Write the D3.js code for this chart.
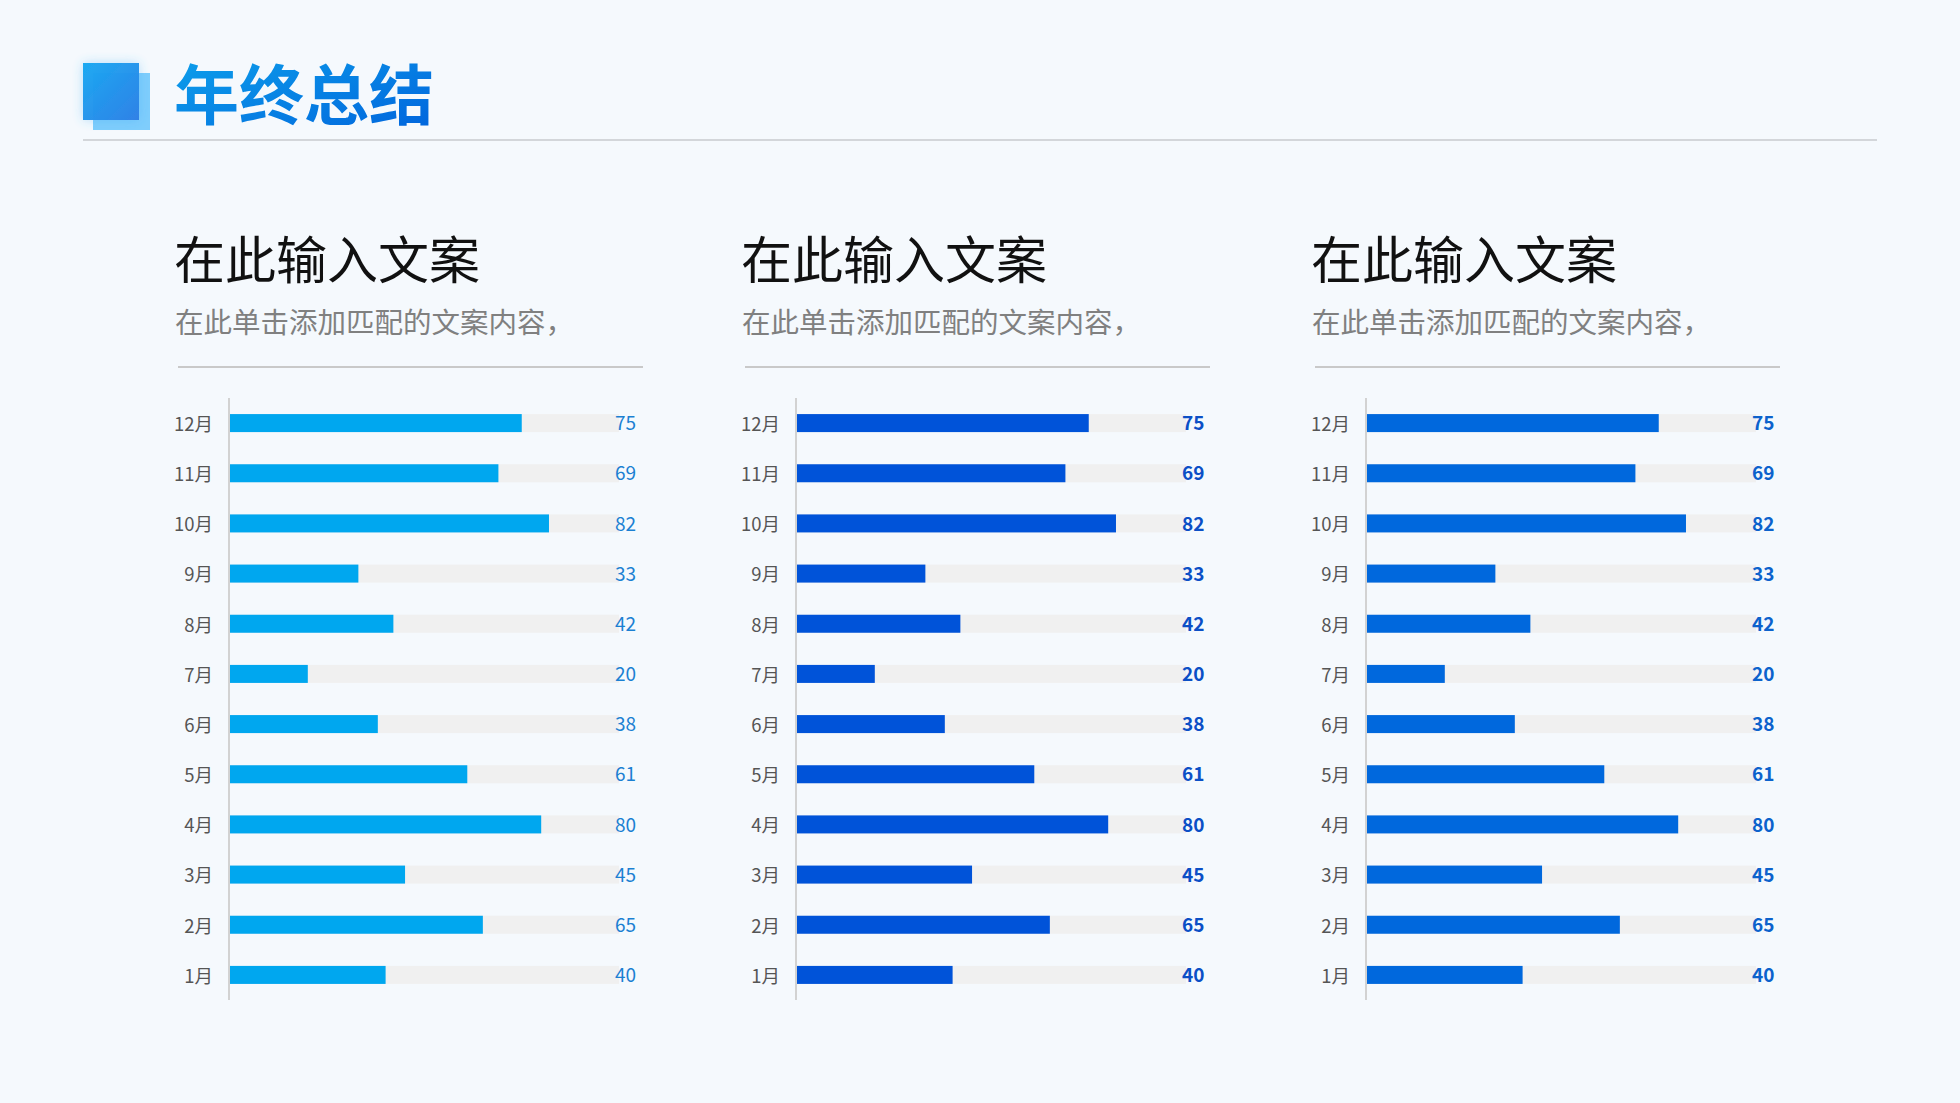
<!DOCTYPE html>
<html>
<head>
<meta charset="utf-8">
<script src="https://cdn.jsdelivr.net/npm/d3@7"></script>
<style>
  html, body { margin: 0; padding: 0; background: #f5f9fd; }
  svg { display: block; font-family: "Noto Sans CJK SC", "Noto Sans", sans-serif; }
</style>
</head>
<body>
<svg id="chart"></svg>
<script>
const pageTitle = '年终总结';
const months = ['12月', '11月', '10月', '9月', '8月', '7月', '6月', '5月', '4月', '3月', '2月', '1月'];
const valuesA = [75, 69, 82, 33, 42, 20, 38, 61, 80, 45, 65, 40];
const valuesB = [75, 69, 82, 33, 42, 20, 38, 61, 80, 45, 65, 40];
const valuesC = [75, 69, 82, 33, 42, 20, 38, 61, 80, 45, 65, 40];
const headings = ['在此输入文案', '在此输入文案', '在此输入文案'];
const notes = ['在此单击添加匹配的文案内容，', '在此单击添加匹配的文案内容，', '在此单击添加匹配的文案内容，'];
const maxValue = 100;

const width = 1960;
const height = 1103;

const svg = d3.select('#chart')
  .attr('width', width)
  .attr('height', height);

svg.append('rect')
  .attr('width', width)
  .attr('height', height)
  .attr('fill', '#f5f9fd');

const defs = svg.append('defs');

const logoGrad = defs.append('linearGradient')
  .attr('id', 'logoGrad')
  .attr('x1', 0).attr('y1', 0).attr('x2', 1).attr('y2', 1);
logoGrad.append('stop').attr('offset', 0).attr('stop-color', '#17a8f2');
logoGrad.append('stop').attr('offset', 1).attr('stop-color', '#2f7fe6');

const titleGrad = defs.append('linearGradient')
  .attr('id', 'titleGrad')
  .attr('x1', 0).attr('y1', 0).attr('x2', 1).attr('y2', 1);
titleGrad.append('stop').attr('offset', 0).attr('stop-color', '#0ea3ec');
titleGrad.append('stop').attr('offset', 1).attr('stop-color', '#0062dc');

const glow = defs.append('filter')
  .attr('id', 'glow')
  .attr('x', '-50%').attr('y', '-50%')
  .attr('width', '200%').attr('height', '200%');
glow.append('feDropShadow')
  .attr('dx', 0).attr('dy', 0)
  .attr('stdDeviation', 6)
  .attr('flood-color', '#3aa8f5')
  .attr('flood-opacity', 0.35);

// header
svg.append('rect')
  .attr('x', 93).attr('y', 73)
  .attr('width', 57).attr('height', 57)
  .attr('fill', '#7fcdfc');
svg.append('rect')
  .attr('x', 83).attr('y', 63)
  .attr('width', 56).attr('height', 57)
  .attr('fill', 'url(#logoGrad)')
  .attr('opacity', 0.97)
  .attr('filter', 'url(#glow)');

svg.append('text')
  .attr('x', 174)
  .attr('y', 119)
  .attr('font-size', 65)
  .attr('font-weight', 700)
  .attr('fill', 'url(#titleGrad)')
  .text(pageTitle);

svg.append('line')
  .attr('x1', 83).attr('x2', 1877)
  .attr('y1', 140).attr('y2', 140)
  .attr('stroke', '#d3d6da')
  .attr('stroke-width', 2);

// panels
const panels = [
  { values: valuesA, axisX: 229, bar: '#00a7ef', label: '#1b80d2', weight: 400 },
  { values: valuesB, axisX: 796, bar: '#0053d9', label: '#0b4fc6', weight: 700 },
  { values: valuesC, axisX: 1366, bar: '#0068dd', label: '#0c62cc', weight: 700 }
];

const y = d3.scalePoint()
  .domain(months)
  .range([398, 1000])
  .padding(0.5);

const barH = 18;

panels.forEach((p, i) => {
  const g = svg.append('g');
  const x = d3.scaleLinear()
    .domain([0, maxValue])
    .range([p.axisX + 1, p.axisX + 1 + 389]);

  g.append('text')
    .attr('x', p.axisX - 55)
    .attr('y', 279)
    .attr('font-size', 51)
    .attr('font-weight', 400)
    .attr('fill', '#111')
    .text(headings[i]);

  g.append('text')
    .attr('x', p.axisX - 54)
    .attr('y', 333)
    .attr('font-size', 28.5)
    .attr('fill', '#808080')
    .text(notes[i]);

  g.append('line')
    .attr('x1', p.axisX - 51).attr('x2', p.axisX + 414)
    .attr('y1', 367).attr('y2', 367)
    .attr('stroke', '#c9c9c9')
    .attr('stroke-width', 2);

  const data = months.map((m, k) => ({ month: m, value: p.values[k] }));

  g.selectAll('.track')
    .data(data)
    .enter()
    .append('rect')
    .attr('class', 'track')
    .attr('x', x(0))
    .attr('y', d => y(d.month) - barH / 2)
    .attr('width', x(maxValue) - x(0))
    .attr('height', barH)
    .attr('fill', '#f0f0f0');

  g.selectAll('.bar')
    .data(data)
    .enter()
    .append('rect')
    .attr('class', 'bar')
    .attr('x', x(0))
    .attr('y', d => y(d.month) - barH / 2)
    .attr('width', d => x(d.value) - x(0))
    .attr('height', barH)
    .attr('fill', p.bar);

  g.selectAll('.val')
    .data(data)
    .enter()
    .append('text')
    .attr('class', 'val')
    .attr('x', x(0) + 385)
    .attr('y', d => y(d.month))
    .attr('dy', '0.38em')
    .attr('font-size', 19)
    .attr('font-weight', p.weight)
    .attr('fill', p.label)
    .text(d => d.value);

  const axis = g.append('g')
    .attr('transform', `translate(${p.axisX},0)`)
    .call(d3.axisLeft(y).tickSize(0).tickPadding(16));
  axis.select('.domain').remove();
  axis.selectAll('text')
    .attr('font-size', 18.5)
    .attr('dy', '0.4em')
    .attr('fill', '#555')
    .attr('font-family', '"Noto Sans CJK SC", sans-serif');

  g.append('line')
    .attr('x1', p.axisX).attr('x2', p.axisX)
    .attr('y1', 398).attr('y2', 1000)
    .attr('stroke', '#d2d2d2')
    .attr('stroke-width', 2);
});
</script>
</body>
</html>
